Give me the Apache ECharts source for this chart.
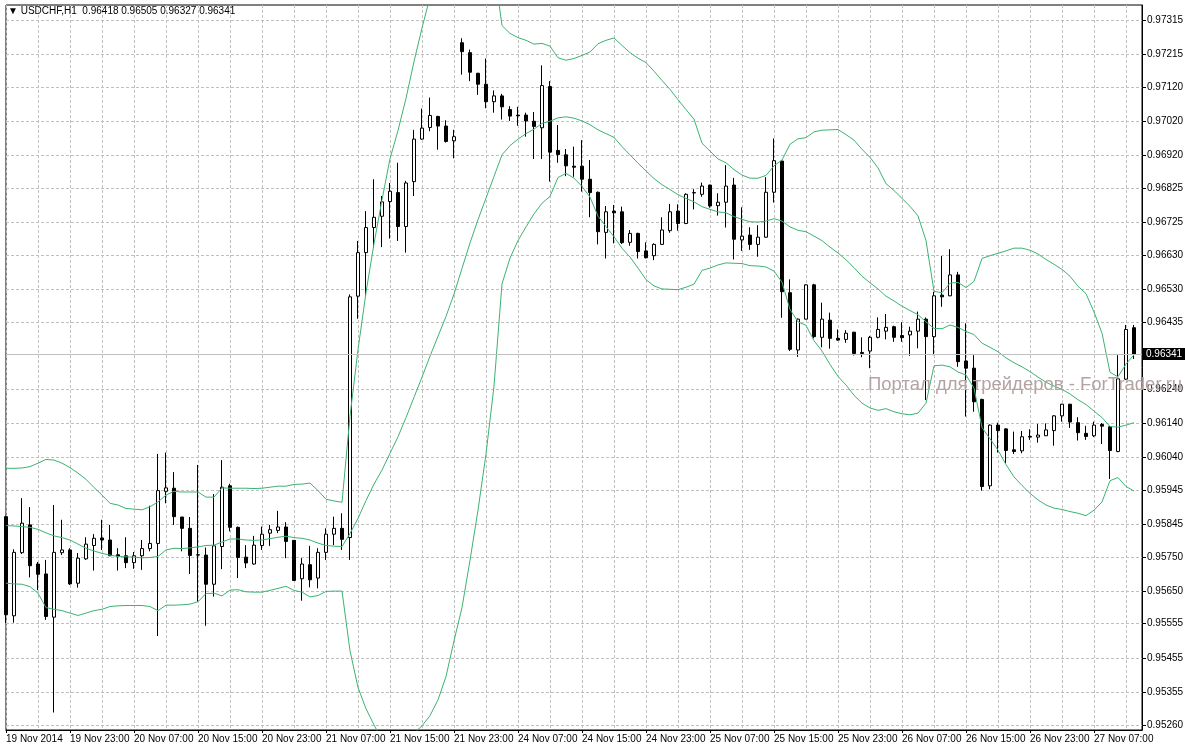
<!DOCTYPE html>
<html>
<head>
<meta charset="utf-8">
<script src="https://cdn.jsdelivr.net/npm/echarts@6/dist/echarts.min.js"></script>
<style>
html,body{margin:0;padding:0;background:#ffffff;}
#main{width:1185px;height:750px;}
</style>
</head>
<body>
<div id="main"></div>
<script>
// ---------- header / text ----------
const symbolName = 'USDCHF,H1';
const headerValues = ['0.96418', '0.96505', '0.96327', '0.96341'];
const lastPrice = 0.96341;
const watermarkText = 'Портал для трейдеров - ForTrader.ru';

// ---------- axis ticks ----------
const xTickLabels = ['19 Nov 2014', '19 Nov 23:00', '20 Nov 07:00', '20 Nov 15:00', '20 Nov 23:00',
  '21 Nov 07:00', '21 Nov 15:00', '21 Nov 23:00', '24 Nov 07:00', '24 Nov 15:00', '24 Nov 23:00',
  '25 Nov 07:00', '25 Nov 15:00', '25 Nov 23:00', '26 Nov 07:00', '26 Nov 15:00', '26 Nov 23:00',
  '27 Nov 07:00'];
const yTickValues = [0.95260, 0.95355, 0.95455, 0.95555, 0.95650, 0.95750, 0.95845, 0.95945, 0.96040,
  0.96140, 0.96240, 0.96340, 0.96435, 0.96530, 0.96630, 0.96725, 0.96825, 0.96920, 0.97020, 0.97120,
  0.97215, 0.97315];
const yLabelValues = [0.95260, 0.95355, 0.95455, 0.95555, 0.95650, 0.95750, 0.95845, 0.95945, 0.96040,
  0.96140, 0.96240, 0.96435, 0.96530, 0.96630, 0.96725, 0.96825, 0.96920, 0.97020, 0.97120,
  0.97215, 0.97315];
const yMin = 0.95245, yMax = 0.97359;

// ---------- categories: hourly bars, 19 Nov 2014 15:00 .. (weekend gap after 21 Nov 23:00) ----------
const firstBarUTC = Date.UTC(2014, 10, 19, 15);
const lastFridayBarIndex = 56;
const categoryCount = 143;
const pad = n => (n < 10 ? '0' : '') + n;
const categories = [];
for (let k = 0; k < categoryCount; k++) {
  const h = k + (k > lastFridayBarIndex ? 48 : 0);
  const d = new Date(firstBarUTC + h * 3600000);
  categories.push(d.getUTCFullYear() + '.' + pad(d.getUTCMonth() + 1) + '.' + pad(d.getUTCDate()) + ' ' + pad(d.getUTCHours()) + ':00');
}

// ---------- OHLC ----------
const opens = [
0.95867,0.95578,0.95762,0.95843,0.95729,0.95700,0.95574,0.95762,0.95770,0.95673,
0.95744,0.95783,0.95805,0.95799,0.95756,0.95753,0.95733,0.95753,0.95774,0.95789,
0.95941,0.95950,0.95866,0.95833,0.95756,0.95755,0.95670,0.95780,0.95957,0.95836,
0.95749,0.95729,0.95783,0.95819,0.95827,0.95837,0.95798,0.95686,0.95727,0.95688,
0.95763,0.95816,0.95833,0.95806,0.96510,0.96637,0.96710,0.96743,0.96786,0.96812,
0.96713,0.96844,0.96968,0.97002,0.97034,0.97006,0.96963,0.97249,0.97220,0.97160,
0.97128,0.97077,0.97094,0.97054,0.97038,0.97038,0.97020,0.97001,0.97121,0.96935,
0.96922,0.96889,0.96889,0.96851,0.96813,0.96696,0.96758,0.96756,0.96667,0.96693,
0.96642,0.96628,0.96661,0.96701,0.96758,0.96722,0.96811,0.96807,0.96834,0.96774,
0.96784,0.96834,0.96674,0.96688,0.96661,0.96682,0.96813,0.96904,0.96520,0.96353,
0.96443,0.96543,0.96390,0.96440,0.96387,0.96384,0.96405,0.96346,0.96350,0.96390,
0.96408,0.96421,0.96395,0.96397,0.96408,0.96443,0.96392,0.96513,0.96511,0.96572,
0.96321,0.96300,0.96209,0.95957,0.96134,0.96123,0.96062,0.96059,0.96099,0.96099,
0.96103,0.96118,0.96161,0.96195,0.96141,0.96110,0.96103,0.96136,0.96129,0.96057,
0.96268,0.96418];
const highs = [
0.95870,0.95772,0.95921,0.95895,0.95735,0.95741,0.95901,0.95858,0.95775,0.95761,
0.95807,0.95816,0.95858,0.95843,0.95775,0.95807,0.95764,0.95799,0.95899,0.96050,
0.96054,0.95997,0.95866,0.95866,0.96018,0.95777,0.95933,0.96032,0.95963,0.95838,
0.95784,0.95811,0.95838,0.95843,0.95884,0.95851,0.95798,0.95746,0.95782,0.95775,
0.95833,0.95867,0.95877,0.96515,0.96671,0.96758,0.96851,0.96802,0.96840,0.96899,
0.96846,0.96995,0.97057,0.97089,0.97036,0.97023,0.96995,0.97262,0.97229,0.97161,
0.97203,0.97110,0.97100,0.97064,0.97062,0.97045,0.97047,0.97183,0.97137,0.97009,
0.96939,0.96946,0.96965,0.96907,0.96815,0.96773,0.96776,0.96771,0.96703,0.96695,
0.96667,0.96664,0.96740,0.96779,0.96778,0.96810,0.96822,0.96841,0.96835,0.96810,
0.96892,0.96855,0.96769,0.96711,0.96717,0.96857,0.96970,0.96906,0.96559,0.96445,
0.96545,0.96546,0.96491,0.96462,0.96413,0.96411,0.96406,0.96390,0.96394,0.96448,
0.96458,0.96424,0.96434,0.96421,0.96465,0.96448,0.96523,0.96627,0.96647,0.96581,
0.96431,0.96338,0.96211,0.96136,0.96141,0.96125,0.96115,0.96117,0.96122,0.96137,
0.96139,0.96163,0.96196,0.96196,0.96157,0.96132,0.96144,0.96140,0.96131,0.96338,
0.96426,0.96426];
const lows = [
0.95557,0.95558,0.95758,0.95690,0.95653,0.95566,0.95296,0.95755,0.95668,0.95660,
0.95741,0.95710,0.95770,0.95752,0.95710,0.95717,0.95715,0.95712,0.95766,0.95519,
0.95906,0.95843,0.95766,0.95700,0.95619,0.95549,0.95634,0.95714,0.95824,0.95688,
0.95717,0.95727,0.95770,0.95782,0.95819,0.95746,0.95680,0.95622,0.95661,0.95658,
0.95741,0.95784,0.95770,0.95741,0.96444,0.96510,0.96651,0.96653,0.96678,0.96671,
0.96637,0.96802,0.96966,0.96991,0.96937,0.96958,0.96912,0.97156,0.97137,0.97097,
0.97058,0.97045,0.97025,0.97021,0.97007,0.96975,0.96910,0.96910,0.96844,0.96899,
0.96860,0.96858,0.96815,0.96740,0.96661,0.96620,0.96664,0.96662,0.96657,0.96620,
0.96620,0.96615,0.96659,0.96695,0.96701,0.96720,0.96763,0.96800,0.96768,0.96745,
0.96710,0.96617,0.96642,0.96645,0.96625,0.96680,0.96783,0.96447,0.96350,0.96333,
0.96442,0.96387,0.96361,0.96357,0.96380,0.96374,0.96337,0.96332,0.96300,0.96387,
0.96384,0.96377,0.96377,0.96336,0.96358,0.96207,0.96338,0.96479,0.96510,0.96304,
0.96159,0.96173,0.95943,0.95947,0.96054,0.96023,0.96050,0.96052,0.96091,0.96083,
0.96102,0.96074,0.96144,0.96126,0.96089,0.96091,0.96099,0.96079,0.95977,0.96055,
0.96266,0.96327];
const closes = [
0.95581,0.95763,0.95848,0.95724,0.95699,0.95576,0.95763,0.95770,0.95671,0.95746,
0.95787,0.95804,0.95799,0.95753,0.95751,0.95733,0.95753,0.95774,0.95789,0.95943,
0.95951,0.95867,0.95833,0.95754,0.95755,0.95670,0.95782,0.95953,0.95836,0.95748,
0.95732,0.95784,0.95816,0.95829,0.95837,0.95795,0.95681,0.95729,0.95683,0.95763,
0.95816,0.95833,0.95801,0.96508,0.96637,0.96710,0.96740,0.96785,0.96816,0.96713,
0.96840,0.96968,0.97000,0.97037,0.97006,0.96961,0.96975,0.97223,0.97163,0.97128,
0.97077,0.97094,0.97062,0.97035,0.97036,0.97021,0.97005,0.97124,0.96930,0.96923,
0.96890,0.96886,0.96851,0.96812,0.96698,0.96756,0.96753,0.96666,0.96693,0.96640,
0.96622,0.96661,0.96703,0.96756,0.96722,0.96807,0.96812,0.96831,0.96773,0.96784,
0.96831,0.96676,0.96685,0.96661,0.96682,0.96813,0.96905,0.96523,0.96355,0.96443,
0.96543,0.96392,0.96443,0.96387,0.96382,0.96402,0.96343,0.96343,0.96390,0.96413,
0.96419,0.96390,0.96389,0.96408,0.96443,0.96392,0.96511,0.96508,0.96572,0.96319,
0.96300,0.96202,0.95955,0.96134,0.96118,0.96060,0.96057,0.96100,0.96101,0.96105,
0.96120,0.96161,0.96195,0.96143,0.96112,0.96101,0.96134,0.96131,0.96060,0.96269,
0.96413,0.96341];

// ---------- Bollinger bands (as drawn) ----------
const bbUpper = [
0.96008,0.96008,0.96009,0.96013,0.96023,0.96034,0.96032,0.96023,0.96010,0.95994,
0.95976,0.95952,0.95930,0.95906,0.95901,0.95891,0.95889,0.95887,0.95896,0.95910,
0.95930,0.95941,0.95939,0.95939,0.95939,0.95924,0.95924,0.95951,0.95950,0.95950,
0.95950,0.95949,0.95950,0.95953,0.95956,0.95956,0.95961,0.95962,0.95965,0.95943,
0.95918,0.95913,0.95909,0.96160,0.96354,0.96521,0.96663,0.96791,0.96911,0.96993,
0.97087,0.97194,0.97292,0.97382,0.97453,0.97502,0.97527,0.97579,0.97590,0.97580,
0.97542,0.97470,0.97299,0.97276,0.97264,0.97256,0.97245,0.97247,0.97239,0.97205,
0.97198,0.97203,0.97212,0.97222,0.97246,0.97256,0.97263,0.97241,0.97220,0.97204,
0.97191,0.97166,0.97139,0.97113,0.97083,0.97054,0.97026,0.96956,0.96933,0.96910,
0.96899,0.96879,0.96863,0.96854,0.96854,0.96862,0.96890,0.96907,0.96953,0.96969,
0.96972,0.96989,0.96994,0.96995,0.96996,0.96981,0.96965,0.96938,0.96915,0.96884,
0.96838,0.96818,0.96795,0.96772,0.96744,0.96672,0.96524,0.96520,0.96548,0.96550,
0.96535,0.96553,0.96620,0.96628,0.96635,0.96642,0.96650,0.96650,0.96644,0.96633,
0.96617,0.96603,0.96588,0.96568,0.96539,0.96517,0.96464,0.96402,0.96288,0.96275,
0.96312,0.96339];
const bbMiddle = [
0.95841,0.95840,0.95838,0.95836,0.95830,0.95820,0.95811,0.95806,0.95799,0.95787,
0.95775,0.95767,0.95760,0.95755,0.95751,0.95750,0.95749,0.95747,0.95748,0.95751,
0.95770,0.95775,0.95774,0.95776,0.95779,0.95783,0.95784,0.95793,0.95802,0.95802,
0.95799,0.95798,0.95799,0.95803,0.95807,0.95810,0.95806,0.95804,0.95799,0.95790,
0.95783,0.95781,0.95780,0.95818,0.95862,0.95914,0.95962,0.96003,0.96052,0.96100,
0.96156,0.96215,0.96274,0.96335,0.96393,0.96451,0.96516,0.96591,0.96665,0.96733,
0.96796,0.96859,0.96922,0.96949,0.96968,0.96984,0.96997,0.97014,0.97020,0.97030,
0.97033,0.97029,0.97021,0.97010,0.96995,0.96984,0.96973,0.96946,0.96922,0.96898,
0.96875,0.96853,0.96835,0.96821,0.96806,0.96795,0.96785,0.96771,0.96763,0.96756,
0.96753,0.96742,0.96734,0.96727,0.96726,0.96729,0.96736,0.96729,0.96712,0.96702,
0.96698,0.96685,0.96672,0.96653,0.96636,0.96616,0.96593,0.96568,0.96549,0.96531,
0.96510,0.96496,0.96481,0.96468,0.96456,0.96435,0.96416,0.96415,0.96426,0.96419,
0.96407,0.96398,0.96373,0.96361,0.96348,0.96330,0.96316,0.96304,0.96290,0.96274,
0.96259,0.96248,0.96238,0.96225,0.96208,0.96194,0.96175,0.96156,0.96130,0.96128,
0.96134,0.96141];
const bbLower = [
0.95673,0.95671,0.95670,0.95663,0.95644,0.95602,0.95597,0.95593,0.95586,0.95579,
0.95586,0.95593,0.95597,0.95605,0.95607,0.95608,0.95608,0.95608,0.95605,0.95593,
0.95609,0.95609,0.95610,0.95612,0.95619,0.95643,0.95644,0.95636,0.95653,0.95654,
0.95648,0.95647,0.95647,0.95652,0.95658,0.95664,0.95652,0.95647,0.95633,0.95637,
0.95649,0.95650,0.95650,0.95476,0.95369,0.95307,0.95260,0.95215,0.95193,0.95207,
0.95224,0.95236,0.95257,0.95287,0.95333,0.95401,0.95505,0.95602,0.95740,0.95886,
0.96050,0.96248,0.96546,0.96621,0.96672,0.96712,0.96750,0.96781,0.96801,0.96856,
0.96868,0.96854,0.96830,0.96799,0.96743,0.96713,0.96683,0.96650,0.96624,0.96592,
0.96558,0.96540,0.96531,0.96530,0.96529,0.96536,0.96545,0.96585,0.96592,0.96601,
0.96607,0.96606,0.96605,0.96599,0.96598,0.96595,0.96583,0.96551,0.96471,0.96435,
0.96425,0.96380,0.96350,0.96311,0.96276,0.96251,0.96221,0.96198,0.96184,0.96177,
0.96182,0.96173,0.96167,0.96164,0.96169,0.96198,0.96307,0.96309,0.96304,0.96289,
0.96280,0.96242,0.96127,0.96094,0.96061,0.96019,0.95983,0.95958,0.95935,0.95916,
0.95901,0.95892,0.95888,0.95882,0.95877,0.95870,0.95886,0.95910,0.95972,0.95981,
0.95955,0.95942];

// ---------- build ----------
const candleData = opens.map((o, i) => [o, closes[i], lows[i], highs[i]]);
const FONT = '"Liberation Sans", "DejaVu Sans", Arial, sans-serif';
const GRID_COLOR = '#c0c0c0';
const BAND_COLOR = '#3cb371';

const chart = echarts.init(document.getElementById('main'), null, { renderer: 'canvas' });
const bandSeries = (name, data) => ({
  name, type: 'line', data, symbol: 'none', showSymbol: false, silent: true,
  smooth: false, clip: true, z: 3,
  lineStyle: { color: BAND_COLOR, width: 1 },
  emphasis: { disabled: true }
});

chart.setOption({
  animation: false,
  backgroundColor: '#ffffff',
  textStyle: { fontFamily: FONT },
  title: [
    {
      text: '\u25BC ' + symbolName + '  ' + headerValues.join(' '),
      left: 8, top: 6, padding: 0,
      textStyle: { fontFamily: FONT, fontSize: 10, fontWeight: 'normal', color: '#000000' }
    },
    {
      text: watermarkText,
      left: 868, top: 375, padding: 0,
      textStyle: { fontFamily: FONT, fontSize: 18.5, fontWeight: 'normal', color: '#b4a3a3' }
    }
  ],
  grid: {
    left: 6, right: 43, top: 5, bottom: 20,
    containLabel: false, outerBoundsMode: 'none',
    show: true, borderColor: '#000000', borderWidth: 1, backgroundColor: 'transparent'
  },
  xAxis: {
    type: 'category',
    data: categories,
    boundaryGap: false,
    axisLine: { show: true, lineStyle: { color: '#000000', width: 1 } },
    axisTick: { show: true, interval: i => i % 8 === 0, length: 3, lineStyle: { color: '#000000' } },
    axisLabel: {
      interval: i => i % 8 === 0,
      formatter: (v, i) => xTickLabels[i / 8] || '',
      align: 'left', margin: 4,
      fontFamily: FONT, fontSize: 10, color: '#000000'
    },
    splitLine: { show: true, interval: i => i % 4 === 0, lineStyle: { color: GRID_COLOR, width: 1, type: [3, 2] } }
  },
  yAxis: {
    type: 'value',
    position: 'right',
    min: yMin, max: yMax,
    axisLine: { show: true, lineStyle: { color: '#000000', width: 1 } },
    axisTick: { show: true, inside: false, length: 4, customValues: yTickValues, lineStyle: { color: '#000000' } },
    axisLabel: {
      customValues: yLabelValues,
      formatter: v => Number(v).toFixed(5),
      margin: 5, fontFamily: FONT, fontSize: 10, color: '#000000'
    },
    splitLine: { show: true, lineStyle: { color: GRID_COLOR, width: 1, type: [3, 2] } }
  },
  series: [
    {
      name: 'price line',
      type: 'line',
      data: [],
      z: 1,
      silent: true,
      markLine: {
        silent: true,
        precision: 5,
        symbol: ['none', 'none'],
        animation: false,
        data: [{ yAxis: lastPrice }],
        lineStyle: { color: GRID_COLOR, type: 'solid', width: 1 },
        label: {
          show: true, position: 'end', distance: 1,
          formatter: () => lastPrice.toFixed(5),
          backgroundColor: '#000000', color: '#ffffff',
          padding: [1, 3, 1, 3], fontFamily: FONT, fontSize: 10
        },
        emphasis: { disabled: true }
      }
    },
    {
      name: symbolName,
      type: 'candlestick',
      data: candleData,
      barWidth: 4,
      clip: false,
      z: 2,
      itemStyle: {
        color: '#ffffff', color0: '#000000',
        borderColor: '#000000', borderColor0: '#000000', borderWidth: 1
      },
      emphasis: { disabled: true }
    },
    bandSeries('BB upper', bbUpper),
    bandSeries('BB middle', bbMiddle),
    bandSeries('BB lower', bbLower)
  ]
});
</script>
</body>
</html>
